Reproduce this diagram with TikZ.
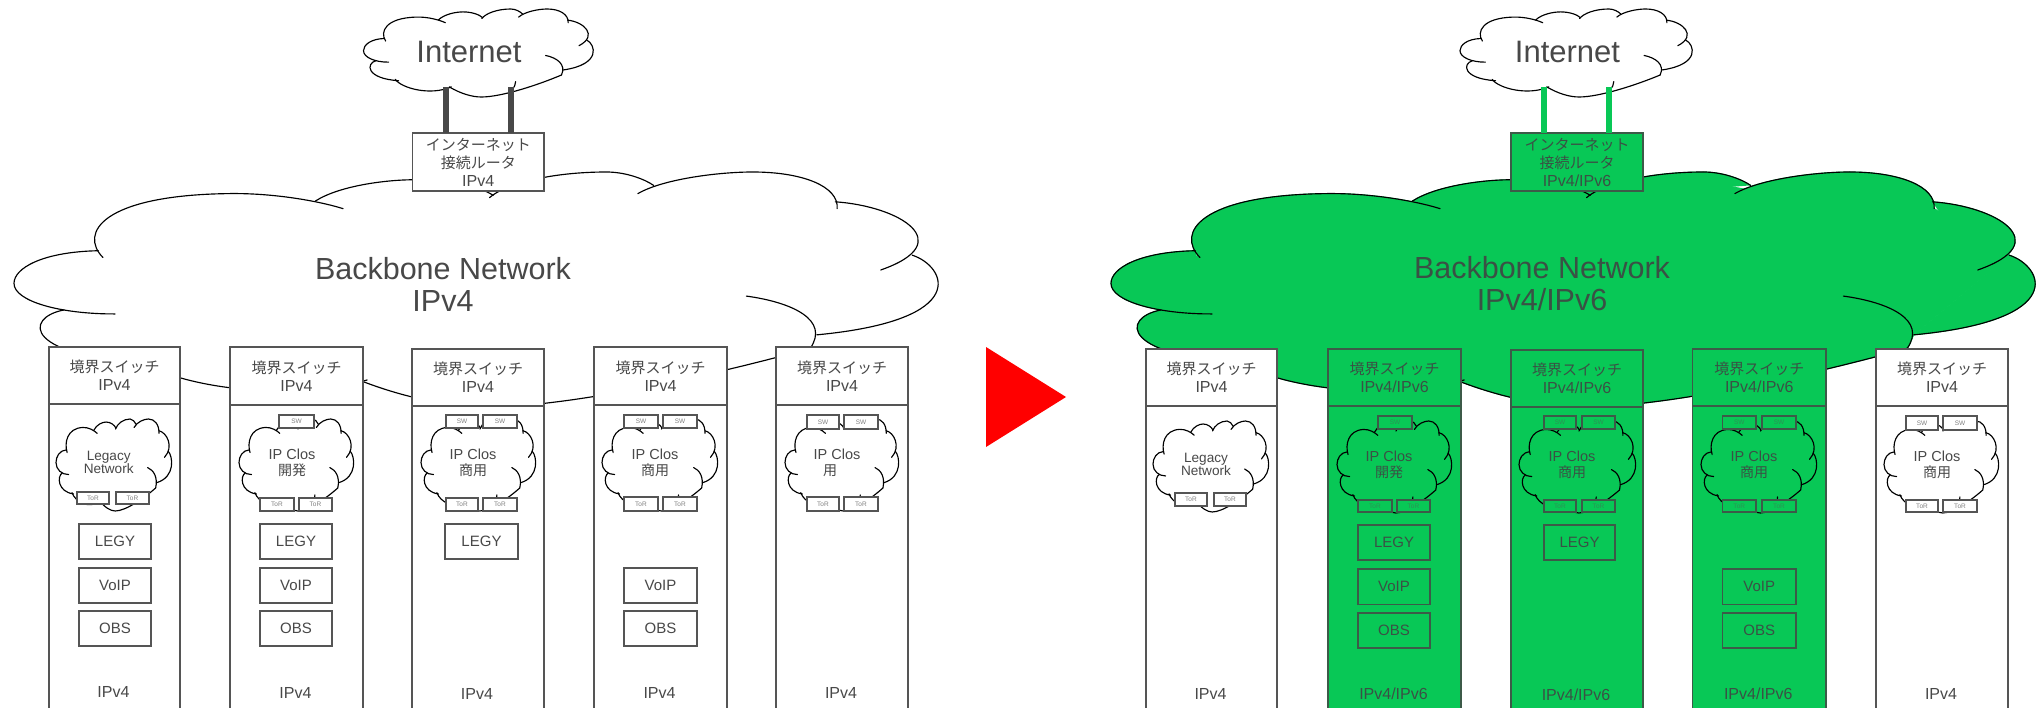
\documentclass[tikz,border=0pt]{standalone}
\usepackage{fontspec}
\setmainfont{Liberation Sans}
\newfontfamily\cjkfont{Noto Sans CJK JP}
\definecolor{linegreen}{HTML}{08C856}
\definecolor{boxlinewhite}{HTML}{555555}
\definecolor{boxlinelinegreen}{HTML}{3C5A48}
\definecolor{inkwhite}{HTML}{484848}
\definecolor{inklinegreen}{HTML}{3A5145}
\definecolor{tinyink}{HTML}{808080}
\definecolor{tinygreen}{HTML}{2E8F55}
\tikzset{
  pxbox/.style={draw=boxlinewhite,line width=1.4pt,inner sep=0pt,outer sep=0pt,align=center,text=inkwhite},
  pxgbox/.style={pxbox,draw=boxlinelinegreen,text=inklinegreen},
  svcbox/.style={pxbox,font=\fontsize{15}{18}\selectfont},
  svcgbox/.style={pxgbox,font=\fontsize{15}{18}\selectfont},
  tinybox/.style={pxbox,line width=1.2pt,fill=white,text=tinyink,font=\fontsize{6.5}{8}\selectfont},
  tinygbox/.style={pxgbox,line width=1.2pt,fill=linegreen,text=tinygreen,font=\fontsize{6.5}{8}\selectfont},
  hdrbox/.style={pxbox,font=\fontsize{16}{18}\selectfont},
  plaintext/.style={inner sep=0pt,outer sep=0pt,align=center,text=inkwhite},
  uplink/.style={line width=6.5pt},
  cloudline/.style={draw=black,line width=1.15pt,line cap=round},
}
% cloud arcs in a 1000 x 1000 frame, y downwards
\def\arcUL{(96,364) .. controls (70,260) and (95,100) .. (230,92) .. controls (280,88) and (330,125) .. (355,156)}
\def\arcL{(91,335) .. controls (30,340) and (0,410) .. (0,474) .. controls (0,550) and (50,605) .. (109,604)}
\def\arcLL{(54,587) .. controls (10,620) and (10,790) .. (152,815)}
\def\arcBL{(138,800) .. controls (165,900) and (290,990) .. (381,885)}
\def\arcB{(372,885) .. controls (420,960) and (470,1000) .. (511,1000) .. controls (600,1000) and (760,860) .. (859,750)}
\def\arcS{(640,925) .. controls (655,890) and (660,860) .. (660,825)}
\def\arcRI{(790,528) .. controls (840,555) and (880,630) .. (859,750)}
\def\arcR{(969,354) .. controls (1005,400) and (1035,630) .. (866,693)}
\def\arcUR{(886,127) .. controls (955,145) and (1020,300) .. (935,417)}
\def\arcTR{(673,92) .. controls (700,30) and (760,0) .. (797,0) .. controls (850,0) and (890,60) .. (888,156)}
\def\arcT{(513,109) .. controls (530,50) and (580,0) .. (639,0) .. controls (660,0) and (680,30) .. (690,57)}
\def\arcTL{(325,124) .. controls (350,60) and (400,33) .. (432,33) .. controls (470,33) and (505,65) .. (517,100)}
% \pxnode{name}{x1}{y1}{x2}{y2}{style}{text}
\newcommand{\pxnode}[7]{%
  \pgfmathsetmacro\pxw{#4-#2}\pgfmathsetmacro\pxh{#5-#3}%
  \node[#6,minimum width=\pxw pt,minimum height=\pxh pt] (#1) at ({(#2+#4)/2},{(#3+#5)/2}) {#7};}
% \cloudshape{x1}{x2}{y1}{y2}{fill}
\newcommand{\cloudshape}[5]{%
  \pgfmathsetmacro\clw{(#2-#1)/1000}\pgfmathsetmacro\clh{(#4-#3)/1000}%
  \begin{scope}[shift={(#1,#3)},x=\clw pt,y=-\clh pt]
    \filldraw[fill=#5,draw=#5,line width=1pt] (96,340) -- (325,124) -- (517,60) -- (640,40) -- (682,72) -- (740,60) -- (888,156) -- (969,354) -- (866,693) -- (859,750) -- (600,945) -- (377,891) -- (138,800) -- (54,587) -- cycle;
    \foreach \a in {\arcUL,\arcL,\arcLL,\arcBL,\arcB,\arcRI,\arcR,\arcUR,\arcTR,\arcT,\arcTL}{\filldraw[fill=#5,draw=#5,line width=1pt] \a;}
    \foreach \a in {\arcUL,\arcL,\arcLL,\arcBL,\arcB,\arcS,\arcRI,\arcR,\arcUR,\arcTR,\arcT,\arcTL}{\draw[cloudline] \a;}
  \end{scope}}
% \netcol{id}{x1}{x2}{top}{div}{fill}{header}{bottom}
\newcommand{\netcol}[8]{%
  \pxnode{#1body}{#2}{#5}{#3}{730}{pxbox,draw=boxline#6,fill=#6}{}%
  \pxnode{#1head}{#2}{#4}{#3}{#5}{hdrbox,draw=boxline#6,text=ink#6,fill=#6}{{\cjkfont\fontsize{15}{18}\selectfont 境界スイッチ}\\#7}%
  \node[plaintext,text=ink#6,font=\fontsize{16}{18}\selectfont] (#1foot) at ({(#2+#3)/2-1},{#5+288}) {#8};}
% \minicloud{id}{x1}{x2}{top}{fill}{text x}{text}
\newcommand{\minicloud}[7]{%
  \cloudshape{#2}{#3}{#4}{#4+92}{#5}%
  \node[plaintext,text=ink#5,font=\fontsize{14.5}{16}\selectfont] (#1label) at ({#6},{#4+44}) {#7};}
\newcommand{\kan}[1]{{\cjkfont\fontsize{14}{16}\selectfont #1}}
\begin{document}
\begin{tikzpicture}[x=1pt,y=-1pt]
\useasboundingbox (0,0) rectangle (2036,708);
\clip (0,0) rectangle (2036,708);
%% LEFT
\cloudshape{14}{941}{172}{407}{white}
\node[plaintext,font=\fontsize{30.5}{32}\selectfont] (lbackbone) at (443,284) {Backbone Network\\IPv4};
\cloudshape{363.5}{594}{9}{97}{white}
\node[plaintext,font=\fontsize{31}{34}\selectfont] (linternet) at (469,52) {Internet};
\pxnode{lrouter}{412.5}{133}{544}{191}{hdrbox,fill=white}{{\cjkfont\fontsize{15}{18}\selectfont インターネット}\\{\cjkfont\fontsize{15}{18}\selectfont 接続ルータ}\\IPv4}
\coordinate (lupA) at (446,87);
\coordinate (lupB) at (511,87);
\draw[uplink,inkwhite] (lupA) -- (lupA |- lrouter.north);
\draw[uplink,inkwhite] (lupB) -- (lupB |- lrouter.north);
% col 1
\netcol{la}{49}{180}{347}{404}{white}{IPv4}{IPv4}
\cloudshape{56}{172}{419}{511}{white}
\node[plaintext,font=\fontsize{13.6}{13}\selectfont] (lalabel) at (108.7,462.5) {Legacy\\Network};
\pxnode{latora}{77}{492}{109}{504}{tinybox}{ToR}
\pxnode{latorb}{116}{492}{149}{504}{tinybox}{ToR}
\pxnode{laL}{79}{524}{151}{559}{svcbox}{LEGY}
\pxnode{laV}{79}{568}{151}{603}{svcbox}{VoIP}
\pxnode{laO}{79}{611}{151}{646}{svcbox}{OBS}
% col 2
\netcol{lb}{230}{363}{347}{405}{white}{IPv4}{IPv4}
\minicloud{lb}{239}{354}{419}{white}{292}{IP Clos\\\kan{開発}}
\pxnode{lbsw}{279}{415}{314}{428}{tinybox}{SW}
\pxnode{lbtora}{260}{498}{294}{511}{tinybox}{ToR}
\pxnode{lbtorb}{299}{498}{332}{511}{tinybox}{ToR}
\pxnode{lbL}{260}{524}{332}{559}{svcbox}{LEGY}
\pxnode{lbV}{260}{568}{332}{603}{svcbox}{VoIP}
\pxnode{lbO}{260}{611}{332}{646}{svcbox}{OBS}
% col 3
\netcol{lc}{412}{544}{349}{406}{white}{IPv4}{IPv4}
\minicloud{lc}{421}{536}{419}{white}{473}{IP Clos\\\kan{商用}}
\pxnode{lcswa}{446}{415}{478}{428}{tinybox}{SW}
\pxnode{lcswb}{483}{415}{517}{428}{tinybox}{SW}
\pxnode{lctora}{446}{498}{478}{511}{tinybox}{ToR}
\pxnode{lctorb}{483}{498}{517}{511}{tinybox}{ToR}
\pxnode{lcL}{445}{524}{518}{559}{svcbox}{LEGY}
% col 4
\netcol{ld}{594}{727}{347}{405}{white}{IPv4}{IPv4}
\minicloud{ld}{602}{718}{419}{white}{655}{IP Clos\\\kan{商用}}
\pxnode{ldswa}{624}{415}{658}{428}{tinybox}{SW}
\pxnode{ldswb}{663}{415}{697}{428}{tinybox}{SW}
\pxnode{ldtora}{624}{497}{658}{511}{tinybox}{ToR}
\pxnode{ldtorb}{663}{497}{697}{511}{tinybox}{ToR}
\pxnode{ldV}{624}{568}{697}{603}{svcbox}{VoIP}
\pxnode{ldO}{624}{611}{697}{646}{svcbox}{OBS}
% col 5
\netcol{le}{776}{908}{347}{405}{white}{IPv4}{IPv4}
\minicloud{le}{785}{899}{419}{white}{837}{IP Clos\\\kan{用}\hspace*{14pt}}
\pxnode{leswa}{807}{415}{839}{429}{tinybox}{SW}
\pxnode{leswb}{844}{415}{878}{429}{tinybox}{SW}
\pxnode{letora}{807}{497}{839}{511}{tinybox}{ToR}
\pxnode{letorb}{844}{497}{878}{511}{tinybox}{ToR}
%% ARROW
\fill[red] (986,347) -- (1066,397) -- (986,447) -- cycle;
%% RIGHT
\cloudshape{1111}{2038}{172}{407}{linegreen}
\node[plaintext,text=inklinegreen,font=\fontsize{30.5}{32}\selectfont] (rbackbone) at (1542,284) {Backbone Network\\IPv4/IPv6};
\cloudshape{1460}{1693}{9}{97}{white}
\node[plaintext,font=\fontsize{31}{34}\selectfont] (rinternet) at (1567.5,52) {Internet};
\pxnode{rrouter}{1511}{133}{1643}{191}{hdrbox,draw=boxlinelinegreen,text=inklinegreen,fill=linegreen}{{\cjkfont\fontsize{15}{18}\selectfont インターネット}\\{\cjkfont\fontsize{15}{18}\selectfont 接続ルータ}\\IPv4/IPv6}
\coordinate (rupA) at (1544,87);
\coordinate (rupB) at (1609,87);
\draw[uplink,linegreen] (rupA) -- (rupA |- rrouter.north);
\draw[uplink,linegreen] (rupB) -- (rupB |- rrouter.north);
% col 1
\netcol{ra}{1146}{1277}{349}{406}{white}{IPv4}{IPv4}
\cloudshape{1153}{1269}{421}{512}{white}
\node[plaintext,font=\fontsize{13.6}{13}\selectfont] (ralabel) at (1206,464) {Legacy\\Network};
\pxnode{ratora}{1175}{493}{1207}{506}{tinybox}{ToR}
\pxnode{ratorb}{1214}{493}{1246}{506}{tinybox}{ToR}
% col 2
\netcol{rb}{1328}{1461}{349}{406}{linegreen}{IPv4/IPv6}{IPv4/IPv6}
\minicloud{rb}{1337}{1452}{421}{linegreen}{1389}{IP Clos\\\kan{開発}}
\pxnode{rbsw}{1378}{416}{1412}{429}{tinygbox}{SW}
\pxnode{rbtora}{1358}{500}{1392}{512}{tinygbox}{ToR}
\pxnode{rbtorb}{1397}{500}{1430}{512}{tinygbox}{ToR}
\pxnode{rbL}{1358}{525}{1430}{560}{svcgbox}{LEGY}
\pxnode{rbV}{1358}{569}{1430}{604.5}{svcgbox}{VoIP}
\pxnode{rbO}{1358}{613}{1430}{648}{svcgbox}{OBS}
% col 3
\netcol{rc}{1511}{1643}{350}{407}{linegreen}{IPv4/IPv6}{IPv4/IPv6}
\minicloud{rc}{1519}{1636}{421}{linegreen}{1572}{IP Clos\\\kan{商用}}
\pxnode{rcswa}{1544}{416}{1576}{429}{tinygbox}{SW}
\pxnode{rcswb}{1582}{416}{1615}{429}{tinygbox}{SW}
\pxnode{rctora}{1544}{500}{1576}{512}{tinygbox}{ToR}
\pxnode{rctorb}{1582}{500}{1615}{512}{tinygbox}{ToR}
\pxnode{rcL}{1544}{525}{1615}{560}{svcgbox}{LEGY}
% col 4
\netcol{rd}{1692.5}{1826}{349}{406}{linegreen}{IPv4/IPv6}{IPv4/IPv6}
\minicloud{rd}{1701}{1817}{421}{linegreen}{1754}{IP Clos\\\kan{商用}}
\pxnode{rdswa}{1722.5}{416}{1756}{429}{tinygbox}{SW}
\pxnode{rdswb}{1762}{416}{1796}{429}{tinygbox}{SW}
\pxnode{rdtora}{1722.5}{500}{1756}{512}{tinygbox}{ToR}
\pxnode{rdtorb}{1762}{500}{1796}{512}{tinygbox}{ToR}
\pxnode{rdV}{1722.5}{569}{1796}{604.5}{svcgbox}{VoIP}
\pxnode{rdO}{1722.5}{613}{1796}{648}{svcgbox}{OBS}
% col 5
\netcol{re}{1876}{2008}{349}{406}{white}{IPv4}{IPv4}
\minicloud{re}{1884}{1999}{421}{white}{1937}{IP Clos\\\kan{商用}}
\pxnode{reswa}{1906}{416}{1938}{430}{tinybox}{SW}
\pxnode{reswb}{1943}{416}{1977}{430}{tinybox}{SW}
\pxnode{retora}{1906}{500}{1938}{512}{tinybox}{ToR}
\pxnode{retorb}{1943}{500}{1977}{512}{tinybox}{ToR}
\end{tikzpicture}
\end{document}
